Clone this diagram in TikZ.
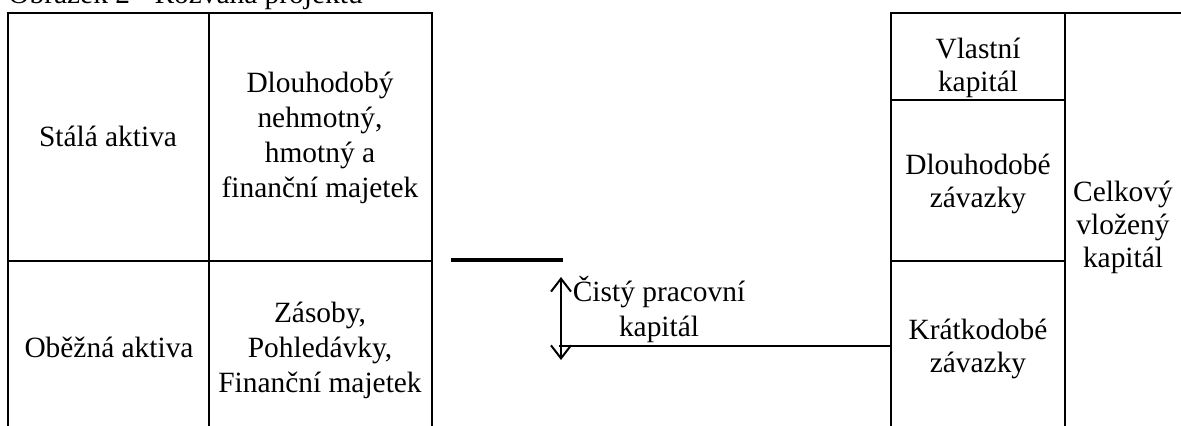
\documentclass[tikz,border=0pt]{standalone}
\usepackage{fontspec}
\setmainfont{Liberation Serif}
\usepackage{xcolor}
\definecolor{Black}{RGB}{0,0,0}
\usetikzlibrary{arrows.meta}
\tikzset{
	celltext/.style={align=center, color=Black, font=\fontsize{14.7}{17.5}\selectfont, inner sep=0pt, anchor=base},
	celltextnarrow/.style={celltext, font=\fontsize{14.7}{16.5}\selectfont},
	frameline/.style={draw=Black, line width=1pt},
	thickbar/.style={draw=Black, line width=2pt},
	barb/.tip={Straight Barb[length=6.5pt, width=10pt]},
}

\begin{document}
\begin{tikzpicture}[x=0.5pt, y=-0.5pt]
		\useasboundingbox (0,0) rectangle (1181,426);
		
		% Title
		\node[celltext, anchor=base west] (title) at (8,4) {Obrázek 2 - Rozvaha projektu};
		
		% Frame (assets)
		\draw[frameline] (8,440) -- (8,13) -- (432,13) -- (432,440);
		\draw[frameline] (209,13) -- (209,440);
		\draw[frameline] (8,261) -- (432,261);
		
		% Frame (capital)
		\draw[frameline] (891,440) -- (891,13) -- (1200,13);
		\draw[frameline] (1065,13) -- (1065,440);
		\draw[frameline] (891,100) -- (1065,100);
		\draw[frameline] (891,261) -- (1065,261);
		
		% Text (base = last line)
		\node[celltext] (stala) 		at (108,147) {Stálá aktiva};
		\node[celltext] (dlouhodoby) 	at (320,198) {Dlouhodobý\\nehmotný,\\hmotný a\\finanční majetek};
		\node[celltext] (obezna) 		at (109,358) {Oběžná aktiva};
		\node[celltext] (zasoby) 		at (320,393) {Zásoby,\\Pohledávky,\\Finanční majetek};
		
		\node[celltextnarrow] (vlastni) 	at (978,92) {Vlastní\\kapitál};
		\node[celltextnarrow] (dlouhodobe) 	at (978,208) {Dlouhodobé\\závazky};
		\node[celltextnarrow] (kratkodobe) 	at (978,372) {Krátkodobé\\závazky};
		\node[celltextnarrow] (celkovy) 	at (1123,268) {Celkový\\vložený\\kapitál};
		
		\node[celltext] (cisty) 		at (659,337) {Čistý pracovní\\kapitál};
		
		% Lines
		\coordinate (barL) at (451,260);
		\coordinate (barR) at (563,260);
		\coordinate (cpkTop) at (561,277);
		\coordinate (cpkBot) at (561,360);
		\coordinate (cpkStart) at (559,346);
		\coordinate (cpkEnd) at (891,346);
		
		\draw[thickbar] (barL) -- (barR);
		\draw[barb-barb, line width=1pt] (cpkTop) -- (cpkBot);
		\draw[frameline] (cpkStart) -- (cpkEnd);
		
	\end{tikzpicture}
\end{document}
